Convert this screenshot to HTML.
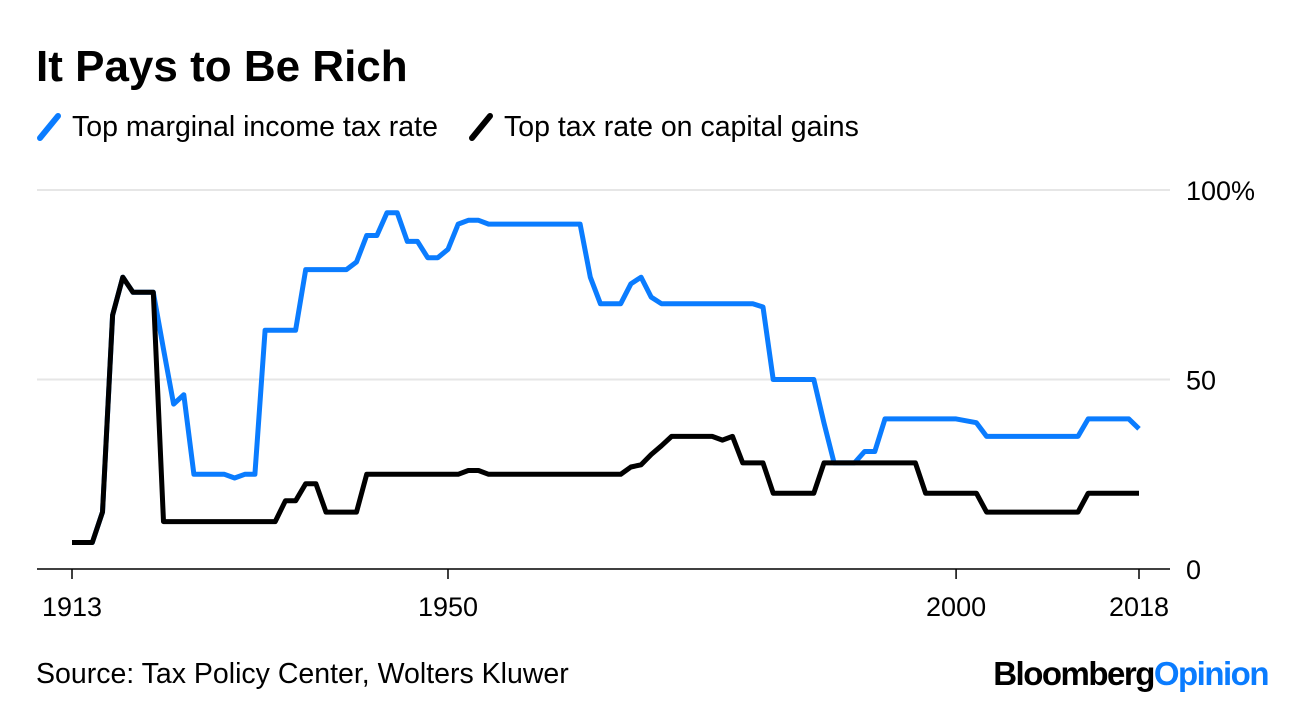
<!DOCTYPE html>
<html><head><meta charset="utf-8"><style>
body{margin:0;background:#fff;width:1296px;height:706px;overflow:hidden;font-family:"Liberation Sans",sans-serif;}
</style></head><body>
<svg width="1296" height="706" id="c">
<text x="36" y="81" font-size="44" font-weight="bold" fill="#000">It Pays to Be Rich</text>
<g>
<line x1="40" y1="138" x2="58" y2="116" stroke="#0a7cff" stroke-width="6" stroke-linecap="round"/>
<text x="72" y="136" font-size="28.5">Top marginal income tax rate</text>
<line x1="472" y1="138" x2="490" y2="116" stroke="#000" stroke-width="6" stroke-linecap="round"/>
<text x="504" y="136" font-size="28.5">Top tax rate on capital gains</text>
</g>
<g id="axes"></g>
<g id="series"></g>
<text x="36" y="683" font-size="28.5">Source: Tax Policy Center, Wolters Kluwer</text>
<text x="1268" y="685" font-size="33" font-weight="bold" text-anchor="end" letter-spacing="-1.5"><tspan fill="#000">Bloomberg</tspan><tspan fill="#0a7cff">Opinion</tspan></text>
</svg>
<script>
const years=[];for(let y=1913;y<=2018;y++)years.push(y);
const incomeRate=[7,7,7,15,67,77,73,73,73,58,43.5,46,25,25,25,25,24,25,25,63,63,63,63,79,79,79,79,79,81,88,88,94,94,86.45,86.45,82.13,82.13,84.36,91,92,92,91,91,91,91,91,91,91,91,91,91,77,70,70,70,75.25,77,71.75,70,70,70,70,70,70,70,70,70,70,69.13,50,50,50,50,50,38.5,28,28,28,31,31,39.6,39.6,39.6,39.6,39.6,39.6,39.6,39.6,39.1,38.6,35,35,35,35,35,35,35,35,35,35,39.6,39.6,39.6,39.6,39.6,37];
const capGainsRate=[7,7,7,15,67,77,73,73,73,12.5,12.5,12.5,12.5,12.5,12.5,12.5,12.5,12.5,12.5,12.5,12.5,18,18,22.5,22.5,15,15,15,15,25,25,25,25,25,25,25,25,25,25,26,26,25,25,25,25,25,25,25,25,25,25,25,25,25,25,26.9,27.5,30.2,32.5,35,35,35,35,35,34,35,28,28,28,20,20,20,20,20,28,28,28,28,28,28,28,28,28,28,20,20,20,20,20,20,15,15,15,15,15,15,15,15,15,15,20,20,20,20,20,20];
const yTicks=[0,50,100];const yTickLabels=["0","50","100%"];
const xTicks=[1913,1950,2000,2018];
const NS="http://www.w3.org/2000/svg";
const X=y=>72+(y-1913)*(1067/105);
const Y=v=>569-v*3.79;
const axes=document.getElementById('axes'),series=document.getElementById('series');
function mk(tag,attrs,parent){const e=document.createElementNS(NS,tag);for(const k in attrs)e.setAttribute(k,attrs[k]);parent.appendChild(e);return e;}
yTicks.forEach((t,i)=>{
 if(t>0){const g=mk('line',{x1:37,x2:1170,y1:Y(t),y2:Y(t),stroke:'#e6e6e6','stroke-width':2},axes);
 
 }
 const l=mk('text',{x:1186,y:Y(t)+10,'font-size':27},axes);l.textContent=yTickLabels[i];
 
 
});
const base=mk('line',{x1:37,x2:1170,y1:569,y2:569,stroke:'#000','stroke-width':1.5},axes);


xTicks.forEach(t=>{
 const tk=mk('line',{x1:X(t),x2:X(t),y1:569,y2:579,stroke:'#000','stroke-width':1.5},axes);
 
 
 const l=mk('text',{x:X(t),y:616,'font-size':27,'text-anchor':'middle'},axes);l.textContent=t;
 
 
});
function pts(arr){return arr.map((v,i)=>X(years[i]).toFixed(1)+','+Y(v).toFixed(1)).join(' ');}
const p1=mk('polyline',{points:pts(incomeRate),fill:'none',stroke:'#0a7cff','stroke-width':5,'stroke-linejoin':'round'},series);


const p2=mk('polyline',{points:pts(capGainsRate),fill:'none',stroke:'#000','stroke-width':5,'stroke-linejoin':'round'},series);


</script>
</body></html>
